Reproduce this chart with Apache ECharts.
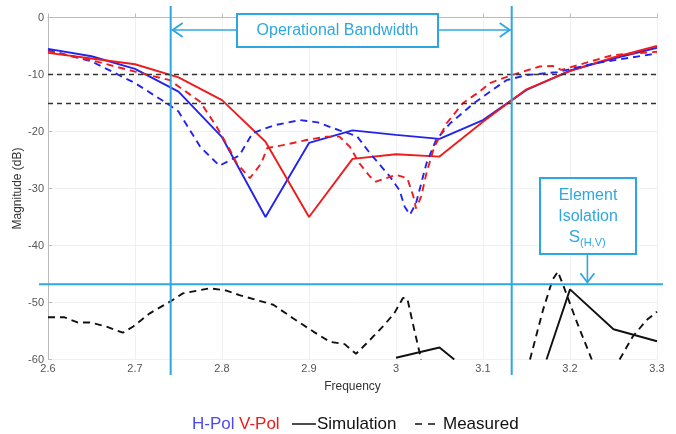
<!DOCTYPE html>
<html>
<head>
<meta charset="UTF-8">
<script src="https://cdn.jsdelivr.net/npm/echarts@6/dist/echarts.min.js"></script>
<style>
  html, body { margin: 0; padding: 0; background: #fff; }
  #chart { width: 676px; height: 434px; }
</style>
</head>
<body>
<div id="chart"></div>
<script>
// simulated return loss, sampled every 0.05 GHz
var freqSim = [2.6, 2.65, 2.7, 2.75, 2.8, 2.85, 2.9, 2.95, 3.0, 3.05, 3.1, 3.15, 3.2, 3.25, 3.3];
var hSim = [-5.5, -6.8, -9.0, -13.0, -21.0, -35.0, -22.0, -19.8, -20.6, -21.3, -18.0, -12.7, -9.3, -7.2, -5.3];
var vSim = [-6.2, -7.2, -8.2, -10.5, -14.5, -21.8, -35.0, -24.8, -24.0, -24.4, -18.3, -12.6, -9.4, -7.0, -5.0];

// measured return loss
var hMeasF = [2.6, 2.65, 2.7, 2.74, 2.75, 2.775, 2.797, 2.82, 2.835, 2.86, 2.89, 2.91, 2.935, 2.955, 2.97, 2.993, 3.004, 3.01, 3.016, 3.023, 3.028, 3.035, 3.046, 3.062, 3.089, 3.11, 3.127, 3.15, 3.185, 3.23, 3.3];
var hMeas = [-5.7, -7.7, -11.5, -15.4, -16.5, -22.7, -26.0, -24.2, -20.3, -18.9, -18.0, -18.4, -19.8, -20.8, -23.8, -27.9, -30.3, -33.2, -34.6, -32.6, -29.7, -25.6, -21.5, -18.6, -15.1, -12.8, -11.0, -10.1, -9.6, -8.0, -6.3];
var vMeasF = [2.6, 2.65, 2.7, 2.74, 2.775, 2.794, 2.809, 2.817, 2.832, 2.845, 2.852, 2.87, 2.897, 2.92, 2.935, 2.947, 2.958, 2.97, 2.977, 3.0, 3.013, 3.02, 3.023, 3.029, 3.035, 3.044, 3.058, 3.077, 3.096, 3.108, 3.133, 3.165, 3.18, 3.19, 3.226, 3.249, 3.3];
var vMeas = [-5.9, -7.5, -9.5, -11.0, -14.8, -19.2, -23.2, -25.6, -28.2, -25.6, -22.9, -22.4, -21.5, -20.9, -20.9, -22.7, -25.6, -27.9, -28.8, -27.6, -28.2, -31.4, -33.5, -31.4, -27.3, -22.7, -18.6, -15.0, -13.0, -11.5, -10.1, -8.6, -8.5, -9.2, -7.6, -6.6, -6.0];

// element isolation S(H,V)  (null = off the bottom of the axis)
var isoSimF = [3.0, 3.05, 3.067, 3.12, 3.173, 3.2, 3.25, 3.3];
var isoSim = [-59.7, -57.9, -60, null, -60, -47.7, -54.7, -56.8];
var isoMeasF = [2.6, 2.619, 2.634, 2.648, 2.667, 2.686, 2.698, 2.717, 2.742, 2.755, 2.786, 2.805, 2.82, 2.843, 2.859, 2.882, 2.905, 2.924, 2.941, 2.954, 2.966, 2.985, 2.998, 3.008, 3.013, 3.021, 3.029, 3.09, 3.154, 3.169, 3.18, 3.186, 3.192, 3.207, 3.225, 3.24, 3.257, 3.272, 3.288, 3.3];
var isoMeas = [-52.6, -52.6, -53.5, -53.5, -54.2, -55.3, -54.2, -51.9, -49.7, -48.4, -47.5, -47.9, -48.7, -49.7, -50.4, -52.8, -55.1, -56.9, -57.3, -59.0, -57.2, -54.2, -51.9, -49.2, -49.3, -54.8, -60, null, -60, -51.3, -46.0, -44.6, -46.9, -53.1, -60, null, -60, -56.0, -53.1, -51.6];

var thresholds = [-10, -15];
var xTicks = [2.6, 3.3, 0.1];
var yTicks = [-60, 0, 10];

// annotation anchors (data units)
var bandLo = 2.741, bandHi = 3.133, arrowLevel = -2.2, isoLevel = -46.8, isoArrowF = 3.22;

var BLUE = '#2323ee', RED = '#ee1c1c', CYAN = '#2ea7e0';
var FONT = 'Liberation Sans, Arial, Helvetica, sans-serif';

function pairs(xs, ys) {
  var out = [];
  for (var i = 0; i < xs.length; i++) out.push([xs[i], ys[i]]);
  return out;
}

function curve(name, xs, ys, color, dashed) {
  return {
    name: name,
    type: 'line',
    data: pairs(xs, ys),
    showSymbol: false,
    symbol: 'none',
    connectNulls: false,
    animation: false,
    lineStyle: { color: color, width: 1.9, type: dashed ? [7, 5] : 'solid' }
  };
}

var chart = echarts.init(document.getElementById('chart'));

var series = [
  curve('H-Pol Sim', freqSim, hSim, BLUE, false),
  curve('V-Pol Sim', freqSim, vSim, RED, false),
  curve('H-Pol Meas', hMeasF, hMeas, BLUE, true),
  curve('V-Pol Meas', vMeasF, vMeas, RED, true),
  curve('Iso Sim', isoSimF, isoSim, '#111', false),
  curve('Iso Meas', isoMeasF, isoMeas, '#111', true)
];
series[0].markLine = {
  silent: true,
  symbol: 'none',
  label: { show: false },
  animation: false,
  lineStyle: { color: '#333', width: 1.3, type: [5, 4] },
  data: thresholds.map(function (t) { return { yAxis: t }; })
};
series[0].z = 1;

chart.setOption({
  animation: false,
  textStyle: { fontFamily: FONT },
  grid: { left: 48, right: 19, top: 17.5, bottom: 74.5, containLabel: false },
  xAxis: {
    type: 'value',
    min: xTicks[0], max: xTicks[1], interval: xTicks[2],
    name: 'Frequency',
    nameLocation: 'middle',
    nameGap: 21,
    nameTextStyle: { fontSize: 12, color: '#333' },
    axisLine: { lineStyle: { color: '#bbb' } },
    axisTick: { inside: true, length: 4, lineStyle: { color: '#bbb' } },
    axisLabel: {
      fontSize: 11, color: '#555', margin: 4,
      formatter: function (v) { return String(parseFloat(v.toFixed(2))); }
    },
    splitLine: { show: true, lineStyle: { color: '#f0f0f0' } }
  },
  yAxis: {
    type: 'value',
    min: yTicks[0], max: yTicks[1], interval: yTicks[2],
    axisLine: { show: true, lineStyle: { color: '#bbb' } },
    axisTick: { show: true, inside: true, length: 4, lineStyle: { color: '#bbb' } },
    axisLabel: { fontSize: 11, color: '#555', margin: 4 },
    splitLine: { show: true, lineStyle: { color: '#f0f0f0' } }
  },
  series: series
});

// annotations placed from data coordinates
var pLo = chart.convertToPixel({ gridIndex: 0 }, [bandLo, arrowLevel]);
var pHi = chart.convertToPixel({ gridIndex: 0 }, [bandHi, isoLevel]);
var xLo = pLo[0], yArr = pLo[1], xHi = pHi[0], yIso = pHi[1];
var xIsoArrow = chart.convertToPixel({ gridIndex: 0 }, [isoArrowF, 0])[0];
var yMid = chart.convertToPixel({ gridIndex: 0 }, [2.6, -30])[1];

var cyanLine = function (x1, y1, x2, y2, w) {
  return { type: 'line', z: 100, shape: { x1: x1, y1: y1, x2: x2, y2: y2 }, style: { stroke: CYAN, lineWidth: w } };
};
var chevron = function (pts) {
  return { type: 'polyline', z: 100, shape: { points: pts }, style: { stroke: CYAN, lineWidth: 1.8, fill: null } };
};
var label = function (txt, x, y, size, color, align) {
  return {
    type: 'text', z: 102, x: x, y: y,
    style: { text: txt, fill: color, font: size + 'px ' + FONT, align: align || 'center', verticalAlign: 'middle' }
  };
};

var boxL = 237, boxR = 438, boxT = 14, boxB = 47;
var isoL = 540, isoR = 636, isoT = 178, isoB = 254;

var yName = label('Magnitude (dB)', 18, yMid, 12, '#333');
yName.rotation = Math.PI / 2;

chart.setOption({
  graphic: [
    yName,
    cyanLine(xLo, 6, xLo, 375, 2),
    cyanLine(xHi, 6, xHi, 375, 2),
    cyanLine(39, yIso, 663, yIso, 2),
    cyanLine(xLo + 1, yArr, xHi - 1, yArr, 1.6),
    chevron([[xLo + 12, yArr - 7], [xLo + 2, yArr], [xLo + 12, yArr + 7]]),
    chevron([[xHi - 12, yArr - 7], [xHi - 2, yArr], [xHi - 12, yArr + 7]]),
    { type: 'rect', z: 101, shape: { x: boxL, y: boxT, width: boxR - boxL, height: boxB - boxT },
      style: { fill: '#fff', stroke: CYAN, lineWidth: 2 } },
    label('Operational Bandwidth', (boxL + boxR) / 2, (boxT + boxB) / 2, 16, CYAN),
    { type: 'rect', z: 101, shape: { x: isoL, y: isoT, width: isoR - isoL, height: isoB - isoT },
      style: { fill: '#fff', stroke: CYAN, lineWidth: 2 } },
    label('Element', (isoL + isoR) / 2, 196, 16, CYAN),
    label('Isolation', (isoL + isoR) / 2, 217, 16, CYAN),
    label('S', 580, 237, 17, CYAN, 'right'),
    label('(H,V)', 580, 243, 11, CYAN, 'left'),
    cyanLine(xIsoArrow, isoB, xIsoArrow, yIso - 1, 1.6),
    chevron([[xIsoArrow - 7, yIso - 11], [xIsoArrow, yIso - 2], [xIsoArrow + 7, yIso - 11]]),
    // legend text
    label('H-Pol', 192, 424, 17, '#4a4af5', 'left'),
    label('V-Pol', 239, 424, 17, '#f01818', 'left'),
    { type: 'line', z: 100, shape: { x1: 292, y1: 424, x2: 316, y2: 424 }, style: { stroke: '#111', lineWidth: 1.5 } },
    label('Simulation', 317, 424, 17, '#111', 'left'),
    { type: 'line', z: 100, shape: { x1: 415, y1: 424, x2: 437, y2: 424 }, style: { stroke: '#111', lineWidth: 1.5, lineDash: [7, 6] } },
    label('Measured', 443, 424, 17, '#111', 'left')
  ]
});
</script>
</body>
</html>
